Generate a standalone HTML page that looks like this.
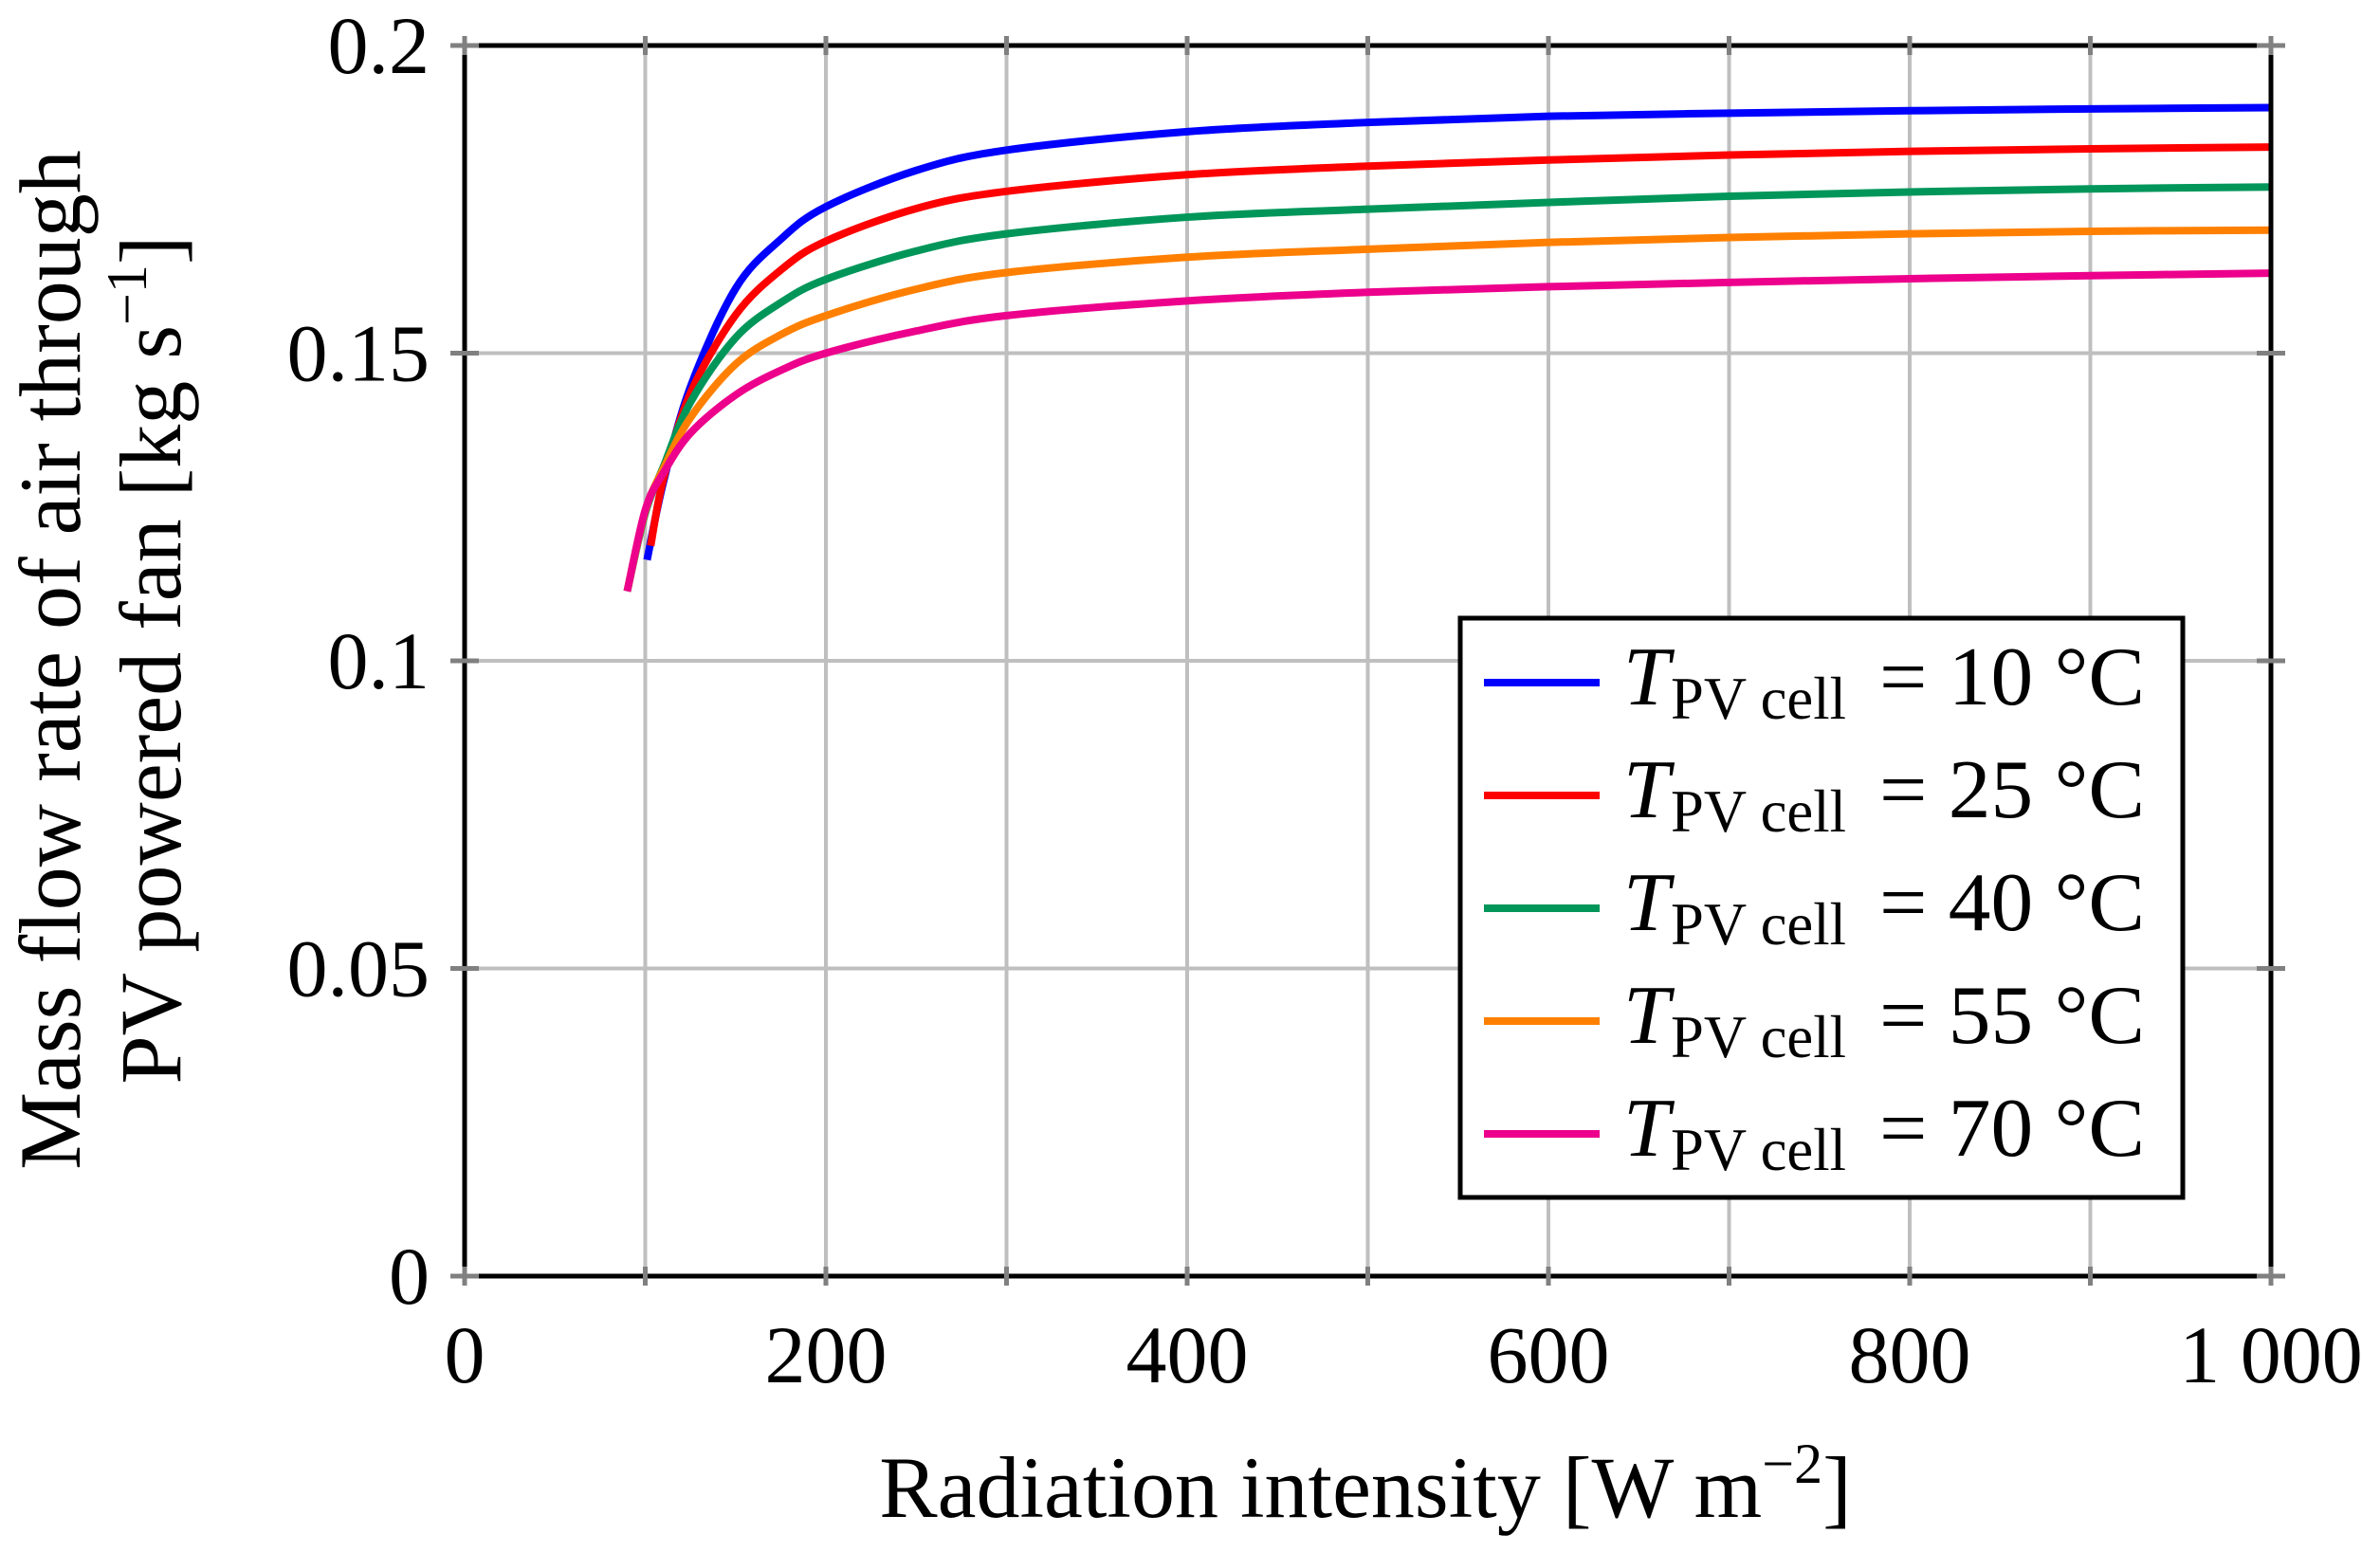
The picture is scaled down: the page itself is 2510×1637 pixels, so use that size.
<!DOCTYPE html>
<html><head><meta charset="utf-8">
<style>
html,body{margin:0;padding:0;background:#fff;}
svg{display:block;font-family:"Liberation Serif",serif;}
</style></head>
<body>
<svg id="chart" width="2510" height="1637" viewBox="0 0 2510 1637" xmlns="http://www.w3.org/2000/svg">
<g id="grid"></g>
<g id="series"></g>
<rect x="490" y="48" width="1905" height="1298" fill="none" stroke="#000" stroke-width="5"/>
<g id="ticks"></g>
<g id="labels" font-size="86"></g>
<text x="1440" y="1600" font-size="92" text-anchor="middle">Radiation intensity [W m<tspan font-size="60" dy="-36">−2</tspan><tspan dy="36">]</tspan></text>
<g transform="translate(0,696) rotate(-90)" font-size="92" text-anchor="middle">
<text x="0" y="84">Mass flow rate of air through</text>
<text x="0" y="190">PV powered fan [kg s<tspan font-size="60" dy="-36">−1</tspan><tspan dy="36">]</tspan></text>
</g>
<g id="legend">
<rect x="1540" y="652" width="762" height="611" fill="#fff" stroke="#000" stroke-width="5"/>
</g>
</svg>
<script>
const xmin=0,xmax=1000,ymin=0,ymax=0.2;
const X0=490,X1=2395,Y0=1346,Y1=48;
function sx(v){return X0+(v-xmin)/(xmax-xmin)*(X1-X0);}
function sy(v){return Y0-(v-ymin)/(ymax-ymin)*(Y0-Y1);}
const xTicks=[0,200,400,600,800,1000];
const xTickLabels=["0","200","400","600","800","1 000"];
const xGrid=[100,200,300,400,500,600,700,800,900];
const yTicks=[0,0.05,0.1,0.15,0.2];
const yTickLabels=["0","0.05","0.1","0.15","0.2"];
const labelsT=["10","25","40","55","70"];
const colors=["#0000ff","#ff0000","#00965a","#ff8000","#ec008c"];
const xBlue=[101,110,125,150,175,200,250,300,400,500,600,700,800,900,1000];
const yBlue=[0.1164,0.129,0.1445,0.1605,0.1685,0.1738,0.1797,0.1830,0.1860,0.1875,0.1885,0.189,0.1894,0.1897,0.1899];
const xRed=[103,110,125,150,175,200,250,300,400,500,600,700,800,900,1000];
const yRed=[0.1187,0.1295,0.1435,0.1562,0.1635,0.1682,0.1735,0.1763,0.1790,0.1804,0.1814,0.1822,0.1828,0.1832,0.1835];
const xLow=[90,100,110,125,150,175,200,250,300,400,500,600,700,800,900,1000];
const yGreen=[0.1113,0.1240,0.1315,0.1420,0.1525,0.1582,0.1620,0.1666,0.1694,0.1721,0.1734,0.1745,0.1755,0.1762,0.1767,0.177];
const yOrange=[0.1113,0.1243,0.1312,0.1395,0.1482,0.1530,0.1561,0.1604,0.1631,0.1656,0.1669,0.168,0.1688,0.1694,0.1698,0.170];
const yPink=[0.1113,0.1245,0.1305,0.1370,0.1432,0.1472,0.1500,0.1536,0.1561,0.1585,0.1599,0.1608,0.1615,0.1621,0.1626,0.163];
const NS="http://www.w3.org/2000/svg";
function mk(tag,attrs,parent){const e=document.createElementNS(NS,tag);for(const k in attrs)e.setAttribute(k,attrs[k]);parent.appendChild(e);return e;}
const grid=document.getElementById('grid'),ticks=document.getElementById('ticks'),labels=document.getElementById('labels');
xGrid.forEach(v=>{const l=mk('line',{x1:sx(v),x2:sx(v),y1:Y1,y2:Y0,stroke:'#bfbfbf','stroke-width':4},grid);

});
yTicks.slice(1,4).forEach(v=>{const l=mk('line',{x1:X0,x2:X1,y1:sy(v),y2:sy(v),stroke:'#bfbfbf','stroke-width':4},grid);

});
xGrid.concat([0,1000]).forEach(v=>{[[Y0-10,Y0+10],[Y1-10,Y1+10]].forEach(p=>{const t=mk('line',{x1:sx(v),x2:sx(v),y1:p[0],y2:p[1],stroke:'#808080','stroke-width':5},ticks);

});});
yTicks.forEach(v=>{[[X0-15,X0+15],[X1-15,X1+15]].forEach(p=>{const t=mk('line',{x1:p[0],x2:p[1],y1:sy(v),y2:sy(v),stroke:'#808080','stroke-width':5},ticks);

});});
xTicks.forEach((v,i)=>{const t=mk('text',{x:sx(v),y:1458,'text-anchor':'middle'},labels);t.textContent=xTickLabels[i];

});
yTicks.forEach((v,i)=>{const t=mk('text',{x:453,y:sy(v)+29,'text-anchor':'end'},labels);t.textContent=yTickLabels[i];

});
function pathD(xs,ys){const p=xs.map((x,i)=>[sx(x),sy(ys[i])]);let d='M'+p[0][0]+','+p[0][1];
for(let i=0;i<p.length-1;i++){const a=p[Math.max(i-1,0)],b=p[i],c=p[i+1],e=p[Math.min(i+2,p.length-1)];
const c1=[b[0]+(c[0]-a[0])/6,b[1]+(c[1]-a[1])/6],c2=[c[0]-(e[0]-b[0])/6,c[1]-(e[1]-b[1])/6];
d+=' C'+c1[0]+','+c1[1]+' '+c2[0]+','+c2[1]+' '+c[0]+','+c[1];}return d;}
const series=[[xBlue,yBlue],[xRed,yRed],[xLow,yGreen],[xLow,yOrange],[xLow,yPink]];
const sg=document.getElementById('series');
const names=['series-10c','series-25c','series-40c','series-55c','series-70c'];
series.forEach((s,i)=>{const p=mk('path',{d:pathD(s[0],s[1]),fill:'none',stroke:colors[i],'stroke-width':8,'stroke-linejoin':'round'},sg);

});
const lg=document.getElementById('legend');
labelsT.forEach((t,i)=>{const y=720+i*119;
const g=mk('g',{},lg);


mk('line',{x1:1565,x2:1687,y1:y,y2:y,stroke:colors[i],'stroke-width':8},g);
const tx=mk('text',{x:1712,y:y+23,'font-size':88,'font-style':'italic'},g);tx.textContent='T';
const sb=mk('text',{x:1762,y:y+38,'font-size':63,textLength:185,lengthAdjust:'spacingAndGlyphs'},g);sb.textContent='PV cell';
const eq=mk('text',{x:1982,y:y+23,'font-size':88,textLength:280,lengthAdjust:'spacingAndGlyphs'},g);eq.textContent='= '+t+' °C';});
</script>
</body></html>
